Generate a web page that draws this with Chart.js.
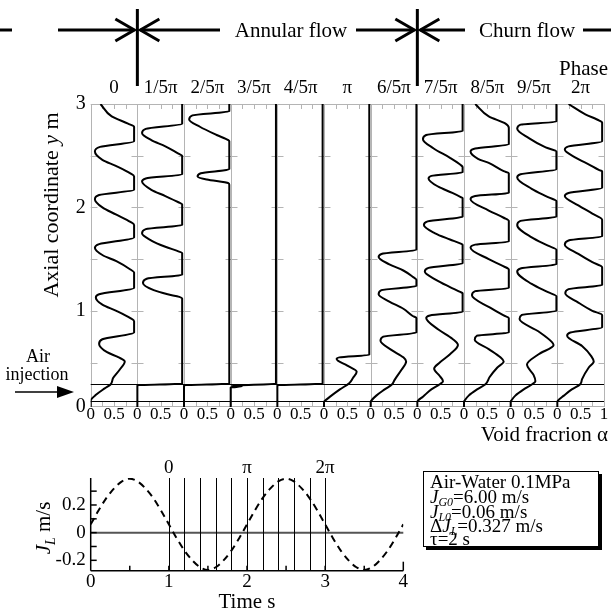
<!DOCTYPE html>
<html>
<head>
<meta charset="utf-8">
<script src="https://cdn.jsdelivr.net/npm/chart.js@4.4.1/dist/chart.umd.min.js"></script>
<style>
  html, body { margin: 0; padding: 0; background: #fff; }
  #wrap { position: relative; width: 611px; height: 612px; }
  #profiles { position: absolute; left: 0; top: 0; }
  #liquid { position: absolute; left: 0; top: 450px; }
</style>
</head>
<body>
<div id="wrap">
  <canvas id="profiles" width="611" height="450"></canvas>
  <canvas id="liquid" width="611" height="162"></canvas>
</div>
<script>
const FONT = '"Liberation Serif", "Times New Roman", serif';
Chart.defaults.font.family = FONT;
Chart.defaults.color = '#000';

// phase of each profile panel
const phaseLabels = ['0', '1/5π', '2/5π', '3/5π', '4/5π', 'π', '6/5π', '7/5π', '8/5π', '9/5π', '2π'];

// void fraction profiles [alpha, y (m)], top to bottom
const phase0 = [[0.21,3.00],[0.45,2.88],[0.80,2.81],[0.93,2.78],[0.93,2.64],[0.20,2.585],[0.09,2.54],[0.25,2.46],[0.55,2.40],[0.85,2.33],[0.93,2.30],
  [0.93,2.17],[0.18,2.12],[0.09,2.08],[0.25,2.00],[0.55,1.93],[0.85,1.86],[0.93,1.83],
  [0.93,1.71],[0.18,1.645],[0.09,1.61],[0.25,1.54],[0.55,1.48],[0.85,1.40],[0.93,1.37],
  [0.93,1.22],[0.18,1.16],[0.11,1.13],[0.25,1.06],[0.55,1.00],[0.85,0.93],[0.93,0.90],
  [0.93,0.79],[0.25,0.725],[0.18,0.68],[0.35,0.60],[0.60,0.55],[0.73,0.51],[0.62,0.43],[0.48,0.35],[0.43,0.29],[0.30,0.25],[0.12,0.19],[0,0.13],[0,0]];
const phase1 = [[0.96,3.00],[0.96,2.81],[0.18,2.76],[0.10,2.72],[0.30,2.65],[0.60,2.59],[0.88,2.52],[0.96,2.50],
  [0.96,2.32],[0.18,2.28],[0.10,2.25],[0.30,2.17],[0.60,2.11],[0.88,2.05],[0.96,2.03],
  [0.96,1.83],[0.18,1.79],[0.10,1.75],[0.30,1.68],[0.60,1.62],[0.88,1.575],[0.96,1.56],
  [0.96,1.35],[0.20,1.31],[0.12,1.27],[0.35,1.20],[0.65,1.16],[0.90,1.135],[0.96,1.12],
  [0.96,0.295],[0,0.28],[0,0]];
const phase2 = [[0.97,3.00],[0.97,2.93],[0.18,2.89],[0.11,2.85],[0.34,2.78],[0.70,2.70],[0.95,2.65],[0.97,2.64],
  [0.97,2.37],[0.36,2.33],[0.29,2.30],[0.49,2.27],[0.95,2.235],[0.97,2.22],
  [0.97,0.295],[0,0.28],[0,0]];
const phase3 = [[0.97,3.00],[0.97,0.295],[0.02,0.275],[0.24,0.27],[0.06,0.262],[0,0.26],[0,0]];
const phase4 = [[0.97,3.00],[0.97,0.295],[0,0.28],[0,0]];
const phase5 = [[0.97,3.00],[0.97,0.575],[0.33,0.55],[0.27,0.535],[0.50,0.47],[0.70,0.41],[0.62,0.35],[0.54,0.30],[0.34,0.24],[0.13,0.17],[0.02,0.13],[0,0.12],[0,0]];
const phase6 = [[0.98,3.00],[0.98,1.59],[0.23,1.55],[0.17,1.52],[0.40,1.45],[0.70,1.39],[0.90,1.33],[0.98,1.30],
  [0.98,1.24],[0.23,1.20],[0.17,1.16],[0.40,1.09],[0.70,1.02],[0.90,0.95],[0.98,0.93],
  [0.98,0.79],[0.27,0.75],[0.21,0.71],[0.45,0.62],[0.70,0.55],[0.76,0.51],[0.66,0.43],[0.51,0.33],[0.46,0.29],[0.30,0.24],[0.12,0.18],[0.01,0.13],[0,0.12],[0,0]];
const phase7 = [[0.97,3.00],[0.97,2.74],[0.19,2.70],[0.12,2.66],[0.35,2.57],[0.70,2.48],[0.93,2.41],[0.97,2.39],
  [0.97,2.34],[0.30,2.305],[0.24,2.28],[0.45,2.20],[0.75,2.14],[0.93,2.10],[0.97,2.09],
  [0.97,1.91],[0.22,1.865],[0.14,1.83],[0.38,1.75],[0.70,1.69],[0.93,1.65],[0.97,1.64],
  [0.97,1.46],[0.24,1.415],[0.16,1.38],[0.40,1.30],[0.70,1.23],[0.93,1.18],[0.97,1.17],
  [0.97,0.99],[0.27,0.955],[0.19,0.93],[0.45,0.82],[0.75,0.73],[0.87,0.67],[0.70,0.58],[0.48,0.50],[0.36,0.44],[0.48,0.37],[0.55,0.32],[0.48,0.29],[0.30,0.24],[0.12,0.17],[0.01,0.13],[0,0.12],[0,0]];
const phase8 = [[0.24,3.00],[0.53,2.88],[0.89,2.81],[0.96,2.77],[0.96,2.61],[0.24,2.57],[0.14,2.54],[0.30,2.47],[0.53,2.43],[0.85,2.35],[0.96,2.33],
  [0.96,2.14],[0.24,2.11],[0.14,2.08],[0.53,1.97],[0.85,1.90],[0.96,1.87],
  [0.96,1.67],[0.24,1.64],[0.14,1.61],[0.53,1.50],[0.85,1.43],[0.96,1.40],
  [0.96,1.22],[0.24,1.19],[0.17,1.15],[0.56,1.03],[0.85,0.955],[0.96,0.93],
  [0.96,0.79],[0.28,0.76],[0.23,0.72],[0.53,0.63],[0.78,0.55],[0.85,0.51],[0.71,0.45],[0.55,0.36],[0.46,0.29],[0.28,0.24],[0.10,0.18],[0.01,0.13],[0,0.12],[0,0]];
const phase9 = [[0.98,3.00],[0.98,2.83],[0.21,2.80],[0.14,2.76],[0.39,2.67],[0.75,2.58],[0.98,2.54],
  [0.98,2.37],[0.21,2.32],[0.14,2.29],[0.45,2.18],[0.80,2.10],[0.98,2.06],
  [0.98,1.91],[0.21,1.87],[0.14,1.83],[0.45,1.71],[0.80,1.63],[0.98,1.59],
  [0.98,1.45],[0.21,1.41],[0.14,1.38],[0.45,1.26],[0.80,1.18],[0.98,1.14],
  [0.98,1.00],[0.24,0.96],[0.19,0.92],[0.60,0.80],[0.88,0.70],[0.92,0.67],[0.60,0.58],[0.35,0.48],[0.49,0.38],[0.53,0.32],[0.46,0.29],[0.28,0.24],[0.10,0.18],[0.01,0.13],[0,0.12],[0,0]];
const phase10 = [[0.24,3.00],[0.60,2.90],[0.90,2.84],[0.96,2.82],[0.96,2.64],[0.24,2.59],[0.16,2.56],[0.40,2.48],[0.70,2.41],[0.90,2.36],[0.96,2.35],
  [0.96,2.19],[0.24,2.14],[0.16,2.11],[0.45,2.02],[0.75,1.94],[0.96,1.88],
  [0.96,1.72],[0.24,1.68],[0.16,1.64],[0.45,1.55],[0.75,1.47],[0.96,1.42],
  [0.96,1.25],[0.24,1.21],[0.17,1.17],[0.45,1.08],[0.75,1.00],[0.96,0.96],
  [0.96,0.84],[0.28,0.79],[0.21,0.76],[0.53,0.66],[0.73,0.56],[0.78,0.51],[0.67,0.45],[0.53,0.34],[0.49,0.29],[0.31,0.24],[0.14,0.18],[0.01,0.13],[0,0.12],[0,0]];
const profiles = [phase0, phase1, phase2, phase3, phase4, phase5, phase6, phase7, phase8, phase9, phase10];

// air injection section (m); the frame starts just below the lower level
const injectionLevels = [0.29, 0.13];
const axialBottom = 0.07;

// liquid flux J_L (m/s) vs time (s)
const timeS = [0,0.1,0.2,0.3,0.4,0.5,0.6,0.7,0.8,0.9,1.0,1.1,1.2,1.3,1.4,1.5,1.6,1.7,1.8,1.9,2.0,
  2.1,2.2,2.3,2.4,2.5,2.6,2.7,2.8,2.9,3.0,3.1,3.2,3.3,3.4,3.5,3.6,3.7,3.8,3.9,4.0];
const jL = [0.06,0.16,0.25,0.32,0.37,0.39,0.37,0.32,0.25,0.16,0.06,-0.04,-0.13,-0.20,-0.25,-0.27,-0.25,-0.20,-0.13,-0.04,0.06,
  0.16,0.25,0.32,0.37,0.39,0.37,0.32,0.25,0.16,0.06,-0.04,-0.13,-0.20,-0.25,-0.27,-0.25,-0.20,-0.13,-0.04,0.06];
// times of the profile snapshots and the phase marks above them
const markerTimes = [1.0,1.2,1.4,1.6,1.8,2.0,2.2,2.4,2.6,2.8,3.0];
const markerLabels = [[1, '0'], [2, 'π'], [3, '2π']];
const jlTickValues = [-0.2, -0.1, 0, 0.1, 0.2, 0.3];
const conditionLines = ['Air-Water 0.1MPa', 'J|G0|=6.00 m/s', 'J|L0|=0.06 m/s', 'ΔJ|L|=0.327 m/s', 'τ=2 s'];

// draw text made of parts [text, size, italic, baselineShift]
function richText(ctx, parts, x, y, align) {
  let w = 0;
  parts.forEach(p => { ctx.font = (p[2] ? 'italic ' : '') + p[1] + 'px ' + FONT; w += ctx.measureText(p[0]).width; });
  let cx = align === 'center' ? x - w / 2 : align === 'right' ? x - w : x;
  ctx.textAlign = 'left';
  ctx.textBaseline = 'alphabetic';
  parts.forEach(p => {
    ctx.font = (p[2] ? 'italic ' : '') + p[1] + 'px ' + FONT;
    ctx.fillText(p[0], cx, y + (p[3] || 0));
    cx += ctx.measureText(p[0]).width;
  });
}

function seg(ctx, x0, y0, x1, y1) {
  ctx.beginPath(); ctx.moveTo(x0, y0); ctx.lineTo(x1, y1); ctx.stroke();
}

function arrowRight(ctx, x0, x1, y) {
  seg(ctx, x0, y, x1, y);
  ctx.beginPath(); ctx.moveTo(x1 - 19, y - 11); ctx.lineTo(x1, y); ctx.lineTo(x1 - 19, y + 11); ctx.stroke();
}

function arrowLeft(ctx, x0, x1, y) {
  seg(ctx, x0, y, x1, y);
  ctx.beginPath(); ctx.moveTo(x0 + 19, y - 11); ctx.lineTo(x0, y); ctx.lineTo(x0 + 19, y + 11); ctx.stroke();
}

// grid crosses, ticks and injection lines of the profile panels, plus labels
const panelFrame = {
  id: 'panelFrame',
  beforeDatasetsDraw(chart) {
    const {ctx, chartArea: {top, bottom, left, right}, scales: {x, y}} = chart;
    ctx.save();
    ctx.strokeStyle = '#b4b4b4';
    ctx.lineWidth = 1;
    ctx.beginPath();
    for (let i = 0; i <= profiles.length; i++) {
      const px = Math.round(x.getPixelForValue(i)) + 0.5;
      ctx.moveTo(px, top); ctx.lineTo(px, bottom);
      for (let v = 0.5; v < 3; v += 0.5) {
        const py = Math.round(y.getPixelForValue(v)) + 0.5;
        ctx.moveTo(Math.max(left, px - 6), py); ctx.lineTo(Math.min(right, px + 6), py);
      }
      if (i < profiles.length) {
        for (let k = 1; k < 4; k++) {
          const tx = Math.round(x.getPixelForValue(i + k / 4)) + 0.5;
          ctx.moveTo(tx, top); ctx.lineTo(tx, top + 5);
          ctx.moveTo(tx, bottom); ctx.lineTo(tx, bottom - 5);
        }
      }
    }
    ctx.moveTo(left, top + 0.5); ctx.lineTo(right, top + 0.5);
    ctx.moveTo(left, bottom - 0.5); ctx.lineTo(right, bottom - 0.5);
    ctx.stroke();
    ctx.strokeStyle = '#000';
    ctx.beginPath();
    injectionLevels.forEach(v => {
      const py = Math.round(y.getPixelForValue(v)) + 0.5;
      ctx.moveTo(left, py); ctx.lineTo(right, py);
    });
    ctx.stroke();
    ctx.restore();
  },
  afterDraw(chart) {
    const {ctx, scales: {x}} = chart;
    ctx.save();
    ctx.fillStyle = '#000';
    ctx.strokeStyle = '#000';

    // flow regime banner
    const b1 = x.getPixelForValue(1), b2 = x.getPixelForValue(7);
    ctx.lineWidth = 3;
    seg(ctx, 0, 30, 12, 30);
    arrowRight(ctx, 58, b1 - 3, 30);
    seg(ctx, b1, 9, b1, 86);
    arrowLeft(ctx, b1 + 3, 220, 30);
    arrowRight(ctx, 356, b2 - 3, 30);
    seg(ctx, b2, 9, b2, 86);
    arrowLeft(ctx, b2 + 3, 465, 30);
    seg(ctx, 583, 30, 611, 30);
    richText(ctx, [['Annular flow', 21]], 291, 37, 'center');
    richText(ctx, [['Churn flow', 21]], 527, 37, 'center');
    richText(ctx, [['Phase', 21]], 608, 75, 'right');

    // phase of each panel
    phaseLabels.forEach((lab, i) => {
      richText(ctx, [[lab, 19]], x.getPixelForValue(i + 0.5), 93, 'center');
    });

    // axis titles
    ctx.save();
    ctx.translate(58, 205);
    ctx.rotate(-Math.PI / 2);
    richText(ctx, [['Axial coordinate ', 22], ['y', 22, true], [' m', 22]], 0, 0, 'center');
    ctx.restore();
    richText(ctx, [['Void fracrion ', 21], ['α', 21]], 608, 441, 'right');

    // air injection mark
    richText(ctx, [['Air', 18]], 38, 362, 'center');
    richText(ctx, [['injection', 18]], 37, 380, 'center');
    ctx.lineWidth = 1.5;
    seg(ctx, 15, 392, 60, 392);
    ctx.beginPath(); ctx.moveTo(74, 392); ctx.lineTo(57, 386); ctx.lineTo(57, 398); ctx.closePath(); ctx.fill();
    ctx.restore();
  }
};

const profileDatasets = profiles.map((pts, i) => ({
  data: pts.map(p => ({x: i + p[0], y: p[1]})),
  borderColor: '#000',
  borderWidth: 2,
  pointRadius: 0,
  fill: false,
  cubicInterpolationMode: 'monotone'
}));

new Chart(document.getElementById('profiles'), {
  type: 'line',
  data: { datasets: profileDatasets },
  options: {
    responsive: false,
    animation: false,
    indexAxis: 'y',
    layout: { padding: { left: 50.7, top: 104, right: 7, bottom: 13 } },
    plugins: { legend: { display: false }, tooltip: { enabled: false } },
    scales: {
      x: {
        type: 'linear', min: 0, max: profiles.length,
        afterBuildTicks: s => { s.ticks = []; for (let k = 0; k <= profiles.length * 2; k++) s.ticks.push({value: k / 2}); },
        afterFit: s => { s.height = 30; },
        grid: { display: false, drawTicks: false },
        border: { display: false },
        ticks: {
          autoSkip: false, maxRotation: 0, padding: -3,
          font: { size: 17 },
          callback: v => v === profiles.length ? '1' : (Number.isInteger(v) ? '0' : '0.5')
        }
      },
      y: {
        type: 'linear', min: axialBottom, max: 3,
        afterBuildTicks: s => { s.ticks = [axialBottom, 1, 2, 3].map(v => ({value: v})); },
        afterFit: s => { s.width = 40; },
        grid: { display: false, drawTicks: false },
        border: { display: false },
        ticks: { padding: 5, font: { size: 20 }, callback: v => v === axialBottom ? '0' : String(v) }
      }
    }
  },
  plugins: [panelFrame]
});

// axes, phase lines and the condition box of the J_L chart
const jlFrame = {
  id: 'jlFrame',
  beforeDatasetsDraw(chart) {
    const {ctx, chartArea: {top, bottom, left, right}, scales: {x, y}} = chart;
    ctx.save();
    ctx.strokeStyle = '#555';
    ctx.lineWidth = 2;
    const y0 = y.getPixelForValue(0);
    seg(ctx, left, y0, right, y0);
    ctx.strokeStyle = '#000';
    ctx.lineWidth = 1;
    markerTimes.forEach(t => {
      const px = Math.round(x.getPixelForValue(t)) + 0.5;
      seg(ctx, px, top, px, bottom);
    });
    ctx.lineWidth = 1.5;
    seg(ctx, left, top, left, bottom);
    seg(ctx, left, bottom, right, bottom);
    jlTickValues.forEach(v => {
      const py = y.getPixelForValue(v);
      seg(ctx, left, py, left + 6, py);
    });
    for (let t = 0.5; t < 4; t += 0.5) {
      const px = x.getPixelForValue(t);
      seg(ctx, px, bottom, px, bottom - 5);
    }
    seg(ctx, right, bottom, right, bottom - 9);
    ctx.restore();
  },
  afterDraw(chart) {
    const {ctx, scales: {x}} = chart;
    ctx.save();
    ctx.fillStyle = '#000';
    markerLabels.forEach(m => richText(ctx, [[m[1], 19]], x.getPixelForValue(m[0]), 23, 'center'));
    richText(ctx, [['Time s', 21]], 247, 158, 'center');
    ctx.save();
    ctx.translate(50, 78);
    ctx.rotate(-Math.PI / 2);
    richText(ctx, [['J', 21, true], ['L', 14, true, 5], [' m/s', 21]], 0, 0, 'center');
    ctx.restore();

    // condition box with shadow
    ctx.fillStyle = '#000';
    ctx.fillRect(426, 24, 176, 76);
    ctx.fillStyle = '#fff';
    ctx.fillRect(423, 21, 176, 76);
    ctx.strokeStyle = '#000';
    ctx.lineWidth = 1;
    ctx.strokeRect(423.5, 21.5, 175, 75);
    ctx.fillStyle = '#000';
    const baselines = [38, 53, 68, 81.5, 95];
    conditionLines.forEach((line, i) => {
      const bits = line.split('|');
      let parts;
      if (bits.length === 1) parts = [[line, 19]];
      else {
        const pre = bits[0].slice(0, -1);
        parts = [];
        if (pre) parts.push([pre, 19]);
        parts.push([bits[0].slice(-1), 19, true], [bits[1], 12, true, 3], [bits[2], 19]);
      }
      richText(ctx, parts, 430, baselines[i], 'left');
    });
    ctx.restore();
  }
};

new Chart(document.getElementById('liquid'), {
  type: 'line',
  data: {
    datasets: [{
      data: timeS.map((t, i) => ({x: t, y: jL[i]})),
      borderColor: '#000',
      borderWidth: 2,
      borderDash: [7, 5],
      pointRadius: 0,
      fill: false,
      cubicInterpolationMode: 'monotone'
    }]
  },
  options: {
    responsive: false,
    animation: false,
    layout: { padding: { left: 50.7, top: 28, right: 207.7, bottom: 17.3 } },
    plugins: { legend: { display: false }, tooltip: { enabled: false } },
    scales: {
      x: {
        type: 'linear', min: 0, max: 4,
        afterBuildTicks: s => { s.ticks = [0, 1, 2, 3, 4].map(v => ({value: v})); },
        afterFit: s => { s.height = 24; },
        grid: { display: false, drawTicks: false },
        border: { display: false },
        ticks: { padding: 0, maxRotation: 0, font: { size: 19 } }
      },
      y: {
        type: 'linear', min: -0.275, max: 0.395,
        afterBuildTicks: s => { s.ticks = [-0.2, 0, 0.2].map(v => ({value: v})); },
        afterFit: s => { s.width = 40; },
        grid: { display: false, drawTicks: false },
        border: { display: false },
        ticks: { padding: 5, font: { size: 19 }, callback: v => v === 0 ? '0' : v.toFixed(1) }
      }
    }
  },
  plugins: [jlFrame]
});
</script>
</body>
</html>
